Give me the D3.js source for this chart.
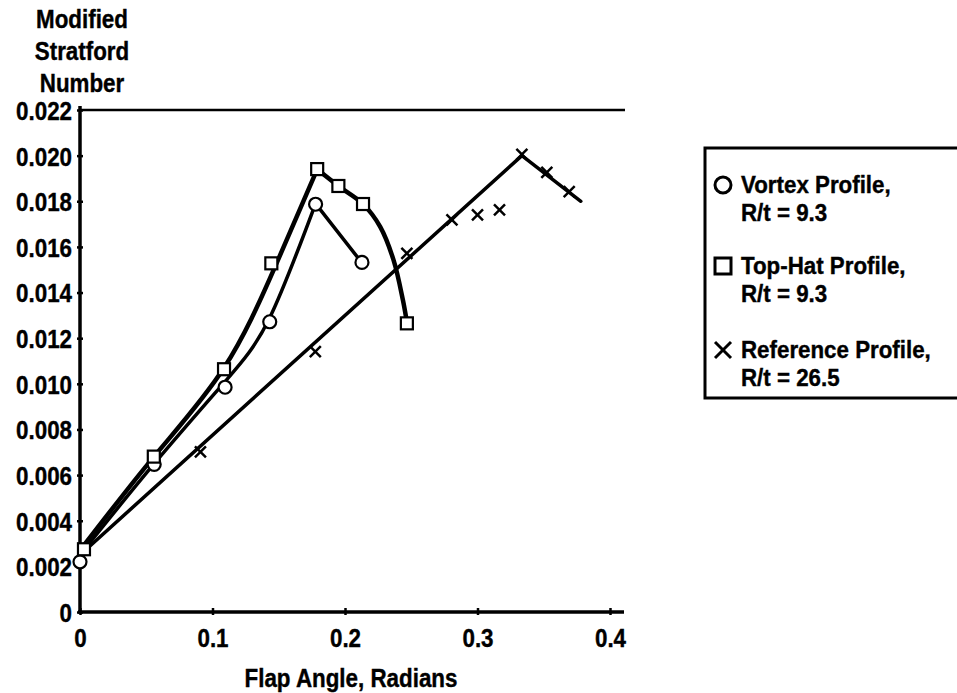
<!DOCTYPE html>
<html>
<head>
<meta charset="utf-8">
<script src="https://cdn.jsdelivr.net/npm/d3@7"></script>
<style>
  body { margin: 0; background: #fff; }
  text { font-family: "Liberation Sans", Arial, Helvetica, sans-serif; font-weight: bold; fill: #000; stroke: #000; stroke-width: 0.4px; }
</style>
</head>
<body>
<div class="chart"></div>
<script>
// tick labels
var yTicks = [0, 0.002, 0.004, 0.006, 0.008, 0.010, 0.012, 0.014, 0.016, 0.018, 0.020, 0.022]
var xTicks = [0, 0.1, 0.2, 0.3, 0.4]

var vortexX = [0, 0.056, 0.1095, 0.1432, 0.1778, 0.2128]
var vortexY = [0.0022, 0.00647, 0.00985, 0.01272, 0.01787, 0.01532]
var topHatX = [0.003, 0.0557, 0.1087, 0.1444, 0.179, 0.195, 0.2136, 0.2467]
var topHatY = [0.00275, 0.00681, 0.01064, 0.01528, 0.01941, 0.01867, 0.01788, 0.01265]
var refX = [0.0909, 0.1776, 0.2467, 0.2807, 0.300, 0.3166, 0.3335, 0.3523, 0.3692]
var refY = [0.00702, 0.01141, 0.01572, 0.01718, 0.0174, 0.01762, 0.02006, 0.01927, 0.01842]

// hand-drawn fair curves
var vortexUpX = [0, 0.056, 0.1095, 0.1432, 0.1778]
var vortexUpY = [0.0025, 0.0065, 0.0101, 0.0129, 0.0179]
var vortexDownX = [0.1778, 0.2128]
var vortexDownY = [0.0179, 0.0153]
var topHatUpX = [0, 0.0557, 0.1087, 0.147, 0.179]
var topHatUpY = [0.0027, 0.0068, 0.0107, 0.0151, 0.0194]
var topHatDownX = [0.179, 0.195, 0.2136, 0.2266, 0.2366, 0.2437, 0.2467]
var topHatDownY = [0.0194, 0.01867, 0.01788, 0.01688, 0.01543, 0.01367, 0.0127]
var refLineX = [0, 0.3335, 0.378]
var refLineY = [0.0025, 0.0200, 0.0180]

var legendLabels = [["Vortex Profile,", "R/t = 9.3"], ["Top-Hat Profile,", "R/t = 9.3"], ["Reference Profile,", "R/t = 26.5"]]
var legendMarks = ["circle", "square", "cross"]

function zip(xs, ys) {
    return xs.map(function(d, i) { return [d, ys[i]] })
}

var w = 957, h = 693

var svg = d3.select(".chart").append("svg")
    .attr("width", w)
    .attr("height", h)

svg.append("rect").attr("width", w).attr("height", h).attr("fill", "#fff")

var xScale = d3.scaleLinear().domain([0, 0.4]).range([80, 610])
var yScale = d3.scaleLinear().domain([0, 0.022]).range([612, 110])

// axes
var yAxis = svg.append("g")
    .attr("transform", "translate(80,0)")
    .call(d3.axisLeft(yScale).tickValues(yTicks).tickSize(4)
        .tickFormat(function(d) { return d === 0 ? "0" : d3.format(".3f")(d) }))
yAxis.select(".domain").remove()
yAxis.selectAll(".tick line").attr("x1", -3).attr("x2", 3).attr("stroke-width", 2.5)
yAxis.selectAll(".tick text").attr("x", -8).attr("dy", "0.36em")
    .style("font-size", "26px")

var xAxis = svg.append("g")
    .attr("transform", "translate(0,612)")
    .call(d3.axisBottom(xScale).tickValues(xTicks).tickSize(4)
        .tickFormat(function(d) { return d === 0 ? "0" : d3.format(".1f")(d) }))
xAxis.select(".domain").remove()
xAxis.selectAll(".tick line").attr("y1", -4).attr("y2", 3).attr("stroke-width", 2.5)
xAxis.selectAll(".tick text").attr("y", 35).attr("dy", 0)
    .style("font-size", "26px")

// axis lines + top border
svg.append("line").attr("x1", 80).attr("x2", 80).attr("y1", 106).attr("y2", 613)
    .attr("stroke", "#000").attr("stroke-width", 3.5)
svg.append("line").attr("x1", 78).attr("x2", 624).attr("y1", 612).attr("y2", 612)
    .attr("stroke", "#000").attr("stroke-width", 3.5)
svg.append("line").attr("x1", 80).attr("x2", 625).attr("y1", yScale(0.022)).attr("y2", yScale(0.022))
    .attr("stroke", "#000").attr("stroke-width", 2.5)

// axis titles
var yTitle = ["Modified", "Stratford", "Number"]
svg.selectAll(".ytitle").data(yTitle).enter().append("text")
    .attr("x", 82).attr("y", function(d, i) { return 28 + i * 32 })
    .attr("text-anchor", "middle")
    .style("font-size", "26px")
    .text(function(d) { return d })

svg.append("text").attr("x", 351).attr("y", 687)
    .attr("text-anchor", "middle")
    .style("font-size", "26px")
    .text("Flap Angle, Radians")

// curves
var line = d3.line().x(function(d) { return xScale(d[0]) }).y(function(d) { return yScale(d[1]) })
var smooth = d3.line().x(function(d) { return xScale(d[0]) }).y(function(d) { return yScale(d[1]) })
    .curve(d3.curveNatural)
var bend = d3.line().x(function(d) { return xScale(d[0]) }).y(function(d) { return yScale(d[1]) })
    .curve(d3.curveCatmullRom.alpha(0.5))

function drawPath(pts, gen, sw) {
    svg.append("path").datum(pts)
        .attr("d", gen)
        .attr("fill", "none")
        .attr("stroke", "#000")
        .attr("stroke-width", sw)
        .attr("stroke-linecap", "round")
        .attr("stroke-linejoin", "round")
}

drawPath(zip(refLineX, refLineY), line, 3.5)
drawPath(zip(vortexUpX, vortexUpY), smooth, 3.5)
drawPath(zip(vortexDownX, vortexDownY), line, 3.5)
drawPath(zip(topHatUpX, topHatUpY), smooth, 4.5)
drawPath(zip(topHatDownX, topHatDownY), bend, 4.5)

// markers
function cross(g, s, sw) {
    g.append("line").attr("x1", -s).attr("y1", -s).attr("x2", s).attr("y2", s)
        .attr("stroke", "#000").attr("stroke-width", sw)
    g.append("line").attr("x1", -s).attr("y1", s).attr("x2", s).attr("y2", -s)
        .attr("stroke", "#000").attr("stroke-width", sw)
}

svg.append("g").selectAll("circle")
    .data(zip(vortexX, vortexY))
    .enter()
    .append("circle")
    .attr("cx", function(d) { return xScale(d[0]) })
    .attr("cy", function(d) { return yScale(d[1]) })
    .attr("r", 6.5)
    .attr("fill", "#fff")
    .attr("stroke", "#000")
    .attr("stroke-width", 2.2)

svg.append("g").selectAll("rect")
    .data(zip(topHatX, topHatY))
    .enter()
    .append("rect")
    .attr("x", function(d) { return xScale(d[0]) - 6 })
    .attr("y", function(d) { return yScale(d[1]) - 6 })
    .attr("width", 12)
    .attr("height", 12)
    .attr("fill", "#fff")
    .attr("stroke", "#000")
    .attr("stroke-width", 2.2)

svg.append("g").selectAll("g")
    .data(zip(refX, refY))
    .enter()
    .append("g")
    .attr("transform", function(d) { return "translate(" + xScale(d[0]) + "," + yScale(d[1]) + ")" })
    .each(function() { cross(d3.select(this), 5.5, 2.5) })

// legend
svg.append("path")
    .attr("d", "M957,148 L705,148 L705,398 L957,398")
    .attr("fill", "none")
    .attr("stroke", "#000")
    .attr("stroke-width", 3)

var rowY = [185, 266, 350]
var leg = svg.append("g").selectAll("g")
    .data(legendLabels)
    .enter()
    .append("g")
    .attr("transform", function(d, i) { return "translate(0," + rowY[i] + ")" })

leg.each(function(d, i) {
    var g = d3.select(this)
    var m = g.append("g").attr("transform", "translate(723,0)")
    if (legendMarks[i] === "circle") {
        m.append("circle").attr("r", 8).attr("fill", "none").attr("stroke", "#000").attr("stroke-width", 3)
    } else if (legendMarks[i] === "square") {
        m.append("rect").attr("x", -8).attr("y", -8).attr("width", 16).attr("height", 16)
            .attr("fill", "none").attr("stroke", "#000").attr("stroke-width", 3)
    } else {
        cross(m, 8, 3)
    }
    g.append("text").attr("class", "leg").attr("x", 741).attr("y", 8)
        .style("font-size", "24px")
        .text(d[0])
    g.append("text").attr("class", "leg").attr("x", 741).attr("y", 36)
        .style("font-size", "24px")
        .text(d[1])
})

// squeeze all text to get the condensed typeface look
svg.selectAll("text").each(function() {
    var len = this.getComputedTextLength()
    var k = d3.select(this).classed("leg") ? 0.93 : 0.86
    d3.select(this).attr("textLength", len * k).attr("lengthAdjust", "spacingAndGlyphs")
})
</script>
</body>
</html>
